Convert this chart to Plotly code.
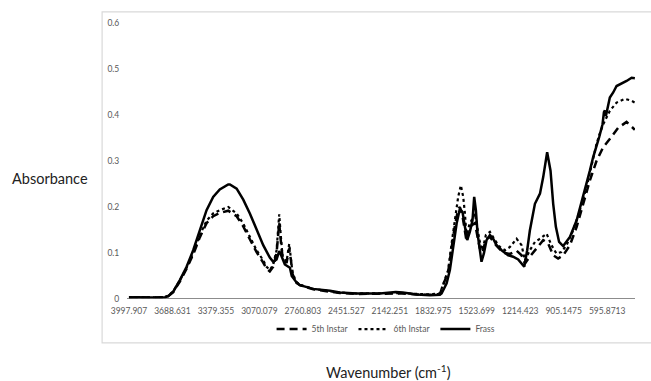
import plotly.graph_objects as go

# ---- data (wavenumber cm-1, absorbance) ----
frass_wn = [3998, 3930, 3860, 3790, 3740, 3719, 3683, 3636, 3588, 3541, 3494, 3446, 3399, 3352,
            3292, 3280, 3232, 3185, 3138, 3090, 3043, 2996, 2972, 2948, 2929, 2919, 2905, 2889,
            2853, 2840, 2806, 2782, 2687, 2568, 2498, 2379, 2213, 2100, 2050, 1950, 1857, 1786,
            1774, 1738, 1715, 1691, 1667, 1644, 1625, 1608, 1592, 1573, 1554, 1542, 1530, 1518,
            1502, 1490, 1473, 1454, 1430, 1407, 1383, 1347, 1300, 1265, 1229, 1186, 1165, 1146,
            1110, 1074, 1051, 1023, 999, 980, 961, 938, 909, 861, 813, 766, 719, 696, 672, 653,
            629, 619, 612, 605, 577, 553, 529, 494, 458, 422, 399]
frass_abs = [0.003, 0.004, 0.003, 0.004, 0.004, 0.006, 0.016, 0.041, 0.070, 0.106, 0.149, 0.193, 0.222, 0.238,
             0.249, 0.249, 0.240, 0.216, 0.186, 0.149, 0.117, 0.090, 0.081, 0.086, 0.104, 0.098, 0.088, 0.075,
             0.068, 0.050, 0.036, 0.030, 0.022, 0.018, 0.014, 0.012, 0.012, 0.015, 0.014, 0.010, 0.008, 0.009,
             0.012, 0.034, 0.063, 0.113, 0.164, 0.196, 0.189, 0.157, 0.128, 0.146, 0.171, 0.222, 0.193, 0.142,
             0.106, 0.081, 0.099, 0.128, 0.139, 0.131, 0.117, 0.106, 0.095, 0.092, 0.086, 0.070, 0.106, 0.149,
             0.207, 0.229, 0.265, 0.319, 0.279, 0.207, 0.157, 0.124, 0.115, 0.135, 0.171, 0.222, 0.279, 0.308, 0.330, 0.352,
             0.380, 0.406, 0.410, 0.398, 0.438, 0.449, 0.463, 0.468, 0.474, 0.481, 0.480]

sixth_wn = [3998, 3930, 3860, 3790, 3740, 3719, 3683, 3636, 3588, 3541, 3494, 3446, 3399, 3352,
            3292, 3232, 3185, 3138, 3090, 3043, 3019, 2996, 2972, 2948, 2929, 2919, 2905, 2877,
            2858, 2846, 2834, 2806, 2782, 2687, 2568, 2498, 2379, 2213, 2100, 2050, 1950, 1857,
            1786, 1762, 1727, 1703, 1679, 1656, 1637, 1620, 1608, 1596, 1578, 1561, 1537, 1521,
            1502, 1483, 1459, 1430, 1395, 1359, 1323, 1288, 1240, 1205, 1181, 1146, 1110, 1074,
            1027, 992, 957, 921, 885, 838, 790, 742, 696, 672, 648, 624, 577, 529, 470, 422, 399]
sixth_abs = [0.004, 0.003, 0.004, 0.003, 0.005, 0.007, 0.017, 0.040, 0.068, 0.100, 0.139, 0.170, 0.186, 0.193,
             0.200, 0.186, 0.164, 0.135, 0.106, 0.084, 0.070, 0.063, 0.074, 0.106, 0.184, 0.142, 0.092, 0.081,
             0.120, 0.088, 0.056, 0.037, 0.031, 0.022, 0.017, 0.014, 0.012, 0.013, 0.014, 0.013, 0.011, 0.010,
             0.012, 0.034, 0.063, 0.120, 0.178, 0.222, 0.247, 0.222, 0.186, 0.135, 0.160, 0.171, 0.186, 0.157,
             0.124, 0.106, 0.139, 0.146, 0.128, 0.113, 0.106, 0.113, 0.131, 0.117, 0.084, 0.106, 0.124, 0.131,
             0.142, 0.117, 0.099, 0.102, 0.117, 0.149, 0.193, 0.243, 0.301, 0.337, 0.360, 0.380, 0.409, 0.427, 0.435, 0.431, 0.427]

fifth_wn = [3998, 3930, 3860, 3790, 3740, 3719, 3683, 3636, 3588, 3541, 3494, 3446, 3399, 3352,
            3292, 3232, 3185, 3138, 3090, 3043, 3019, 2996, 2972, 2948, 2929, 2919, 2905, 2877,
            2858, 2846, 2834, 2806, 2782, 2687, 2568, 2498, 2379, 2213, 2100, 2050, 1950, 1857,
            1786, 1762, 1727, 1703, 1679, 1656, 1644, 1625, 1608, 1596, 1578, 1561, 1537, 1521,
            1502, 1483, 1459, 1430, 1395, 1359, 1323, 1288, 1240, 1205, 1181, 1146, 1098, 1051,
            1016, 980, 945, 909, 861, 813, 766, 719, 672, 624, 582, 518, 458, 406, 399]
fifth_abs = [0.003, 0.004, 0.003, 0.004, 0.004, 0.006, 0.015, 0.038, 0.066, 0.097, 0.134, 0.165, 0.180, 0.187,
             0.192, 0.180, 0.158, 0.130, 0.102, 0.079, 0.066, 0.060, 0.070, 0.100, 0.165, 0.130, 0.090, 0.078,
             0.110, 0.085, 0.054, 0.035, 0.030, 0.021, 0.016, 0.013, 0.011, 0.012, 0.013, 0.012, 0.010, 0.009,
             0.011, 0.030, 0.060, 0.110, 0.160, 0.195, 0.200, 0.180, 0.150, 0.125, 0.150, 0.160, 0.165, 0.140,
             0.110, 0.100, 0.130, 0.135, 0.120, 0.108, 0.100, 0.098, 0.105, 0.095, 0.077, 0.092, 0.110, 0.128,
             0.121, 0.095, 0.088, 0.095, 0.117, 0.157, 0.207, 0.258, 0.300, 0.330, 0.346, 0.372, 0.385, 0.371, 0.368]

x_tick_vals = [3997.907, 3688.631, 3379.355, 3070.079, 2760.803, 2451.527, 2142.251,
               1832.975, 1523.699, 1214.423, 905.1475, 595.8713]
x_tick_text = ["3997.907", "3688.631", "3379.355", "3070.079", "2760.803", "2451.527", "2142.251",
               "1832.975", "1523.699", "1214.423", "905.1475", "595.8713"]

FONT = "Lato, 'Open Sans', sans-serif"
GRAY = "#595959"

fig = go.Figure()
fig.add_trace(go.Scatter(x=fifth_wn, y=fifth_abs, mode="lines", name="5th Instar",
                         line=dict(color="black", width=2.5, dash="8px,5px")))
fig.add_trace(go.Scatter(x=sixth_wn, y=sixth_abs, mode="lines", name="6th Instar",
                         line=dict(color="black", width=2.2, dash="dot")))
fig.add_trace(go.Scatter(x=frass_wn, y=frass_abs, mode="lines", name="Frass",
                         line=dict(color="black", width=2.5)))

fig.update_layout(
    width=651, height=381,
    margin=dict(l=127, r=16, t=23, b=82),
    paper_bgcolor="white", plot_bgcolor="white",
    font=dict(family=FONT, size=8.5, color=GRAY),
    showlegend=True,
    legend=dict(orientation="h", x=0.51, xanchor="center", y=-0.109, yanchor="middle",
                font=dict(family=FONT, size=8.5, color=GRAY), itemwidth=30,
                bgcolor="rgba(0,0,0,0)"),
    xaxis=dict(range=[4012, 398], tickvals=x_tick_vals, ticktext=x_tick_text,
               showgrid=False, zeroline=False, showline=False,
               ticks="outside", ticklen=4, tickcolor="rgba(0,0,0,0)",
               tickfont=dict(family=FONT, size=8.5, color=GRAY)),
    yaxis=dict(range=[0, 0.6], dtick=0.1, showgrid=False, zeroline=False, showline=False,
               ticks="outside", ticklen=5, tickcolor="rgba(0,0,0,0)",
               tickfont=dict(family=FONT, size=8.5, color=GRAY)),
    shapes=[
        dict(type="rect", xref="paper", yref="paper", x0=-0.049, x1=1.05, y0=-0.159, y1=1.04,
             line=dict(color="#d9d9d9", width=1.2), fillcolor="rgba(0,0,0,0)", layer="below"),
        dict(type="line", xref="paper", yref="y", x0=0, x1=1, y0=0, y1=0,
             line=dict(color="#666666", width=1.5)),
    ],
    annotations=[
        dict(text="Absorbance", xref="paper", yref="paper", x=-0.152, y=0.438,
             xanchor="center", yanchor="middle",
             showarrow=False, font=dict(family=FONT, size=14.5, color="#222222")),
        dict(text="Wavenumber (cm<sup>-1</sup>)", xref="paper", yref="paper", x=0.514, y=-0.264,
             xanchor="center", yanchor="middle",
             showarrow=False, font=dict(family=FONT, size=14.5, color="#222222")),
    ],
)

fig.write_html("out.html")
